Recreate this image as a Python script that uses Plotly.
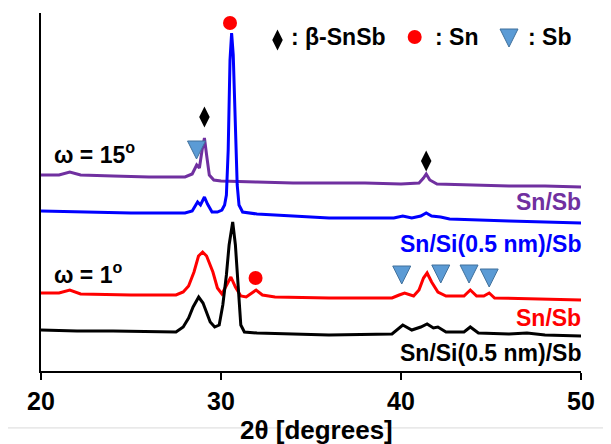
import plotly.graph_objects as go

# ---------------- data (intensity in arbitrary offset units) ----------------
x_w15_snsb = [20.0, 21.0, 21.6, 22.2, 24.0, 26.0, 28.0, 28.4, 28.65, 28.8, 28.95, 29.08, 29.2, 29.35,
              29.6, 30.0, 32.0, 34.0, 36.0, 38.0, 40.0, 41.0, 41.25, 41.4, 41.6, 42.0, 44.0, 46.0, 48.0, 50.0]
y_w15_snsb = [196, 196, 199, 196, 195, 194, 194, 197, 206, 203, 221, 233, 216, 196,
              191, 190, 189, 188, 188, 188, 187, 188, 193, 197, 191, 187, 186, 185, 185, 184]

x_w15_snsisb = [20.0, 22.0, 25.0, 28.0, 28.4, 28.7, 28.86, 29.08, 29.25, 29.5, 29.8, 30.05, 30.2, 30.3,
                30.4, 30.5, 30.59, 30.68, 30.78, 30.9, 31.0, 31.2, 32.0, 34.0, 36.0, 38.0, 39.6, 40.1,
                40.6, 41.1, 41.4, 41.7, 42.2, 42.7, 44.0, 46.0, 48.0, 50.0]
y_w15_snsisb = [160, 159, 158, 158, 160, 169, 166, 174, 167, 159, 159, 161, 166, 176,
                221, 311, 338, 316, 251, 186, 166, 159, 157, 155, 153, 153, 153, 155,
                153, 155, 158, 155, 154, 152, 151, 150, 149, 148]

x_w1_snsb = [20.0, 21.0, 21.6, 22.2, 25.0, 27.5, 27.9, 28.2, 28.5, 28.75, 28.98, 29.2, 29.55, 29.8,
             30.05, 30.35, 30.55, 30.8, 31.1, 31.4, 31.75, 31.95, 32.3, 33.0, 36.0, 39.5, 39.9, 40.2,
             40.7, 41.0, 41.25, 41.45, 41.7, 42.05, 42.5, 43.5, 43.85, 44.2, 44.6, 44.9, 45.2, 47.0, 50.0]
y_w1_snsb = [78, 78, 81, 77, 76, 76, 79, 85, 99, 115, 119, 115, 99, 83,
             77, 87, 94, 84, 75, 74, 79, 81, 76, 74, 73, 73, 76, 78,
             75, 81, 93, 98, 89, 79, 75, 75, 81, 75, 75, 78, 73, 72, 71]

x_w1_snsisb = [20.0, 22.0, 24.0, 26.0, 27.5, 27.9, 28.2, 28.45, 28.76, 29.0, 29.2, 29.4, 29.65, 29.9,
               30.1, 30.3, 30.45, 30.65, 30.8, 30.95, 31.1, 31.3, 32.0, 34.0, 36.0, 39.5, 40.1, 40.6,
               41.1, 41.45, 41.8, 42.05, 42.5, 43.5, 43.85, 44.3, 46.0, 47.0, 48.0, 50.0]
y_w1_snsisb = [41, 40, 40, 39, 39, 44, 53, 64, 74, 68, 59, 49, 44, 46,
               66, 96, 126, 149, 126, 81, 46, 39, 38, 37, 36, 37, 46, 41,
               44, 47, 43, 44, 39, 39, 44, 38, 37, 38, 36, 35]

# phase markers (peak positions)
snsb_x = [29.08, 41.40]
snsb_y = [254, 210]
sn_x = [30.50, 31.92]
sn_y = [348, 93]
sb_x = [28.64, 40.04, 42.21, 43.78, 44.90]
sb_y = [212, 87, 88, 88, 84]

# key (phase legend)
key_x = [33.14, 40.76, 46.00]
key_y = [331, 334, 324]
key_labels = [": β-SnSb", ": Sn", ": Sb"]
key_text_x = [33.75, 41.76, 46.94]

tick_vals = [20, 30, 40, 50]
x_title = "2θ [degrees]"

# ---------------- figure ----------------
FONT = "Liberation Sans"
PURPLE, BLUE, RED, BLACK = "#7030A0", "#0000FF", "#FF0000", "#000000"
SBFILL, SBLINE = "#5B9BD5", "#41719C"

fig = go.Figure()
fig.add_trace(go.Scatter(x=x_w1_snsb, y=y_w1_snsb, mode="lines", line=dict(color=RED, width=3)))
fig.add_trace(go.Scatter(x=x_w1_snsisb, y=y_w1_snsisb, mode="lines", line=dict(color=BLACK, width=3)))
fig.add_trace(go.Scatter(x=x_w15_snsb, y=y_w15_snsb, mode="lines", line=dict(color=PURPLE, width=3)))
fig.add_trace(go.Scatter(x=x_w15_snsisb, y=y_w15_snsisb, mode="lines", line=dict(color=BLUE, width=3)))

fig.add_trace(go.Scatter(x=snsb_x, y=snsb_y, mode="markers",
                         marker=dict(symbol="diamond-tall", size=15, color=BLACK, line=dict(width=0)),
                         cliponaxis=False))
fig.add_trace(go.Scatter(x=sn_x, y=sn_y, mode="markers",
                         marker=dict(symbol="circle", size=14, color=RED, line=dict(width=0)),
                         cliponaxis=False))
fig.add_trace(go.Scatter(x=sb_x, y=sb_y, mode="markers",
                         marker=dict(symbol="arrow-down", size=18, color=SBFILL, line=dict(width=1, color=SBLINE)),
                         cliponaxis=False))

# key markers
fig.add_trace(go.Scatter(x=key_x[:1], y=key_y[:1], mode="markers",
                         marker=dict(symbol="diamond-tall", size=15, color=BLACK, line=dict(width=0)),
                         cliponaxis=False))
fig.add_trace(go.Scatter(x=key_x[1:2], y=key_y[1:2], mode="markers",
                         marker=dict(symbol="circle", size=14, color=RED, line=dict(width=0)),
                         cliponaxis=False))
fig.add_trace(go.Scatter(x=key_x[2:], y=key_y[2:], mode="markers",
                         marker=dict(symbol="arrow-down", size=18, color=SBFILL, line=dict(width=1, color=SBLINE)),
                         cliponaxis=False))

ann_font = dict(family=FONT, size=23, weight="bold")
annotations = []
for tx, lab in zip(key_text_x, key_labels):
    annotations.append(dict(x=tx, y=334, xref="x", yref="y", text=lab, showarrow=False,
                            xanchor="left", yanchor="middle", font=dict(ann_font, color=BLACK)))

labels = [
    ("ω = 15<sup>o</sup>", 20.63, 218, "left", BLACK),
    ("ω = 1<sup>o</sup>", 20.63, 98, "left", BLACK),
    ("Sn/Sb", 50.0, 169, "right", PURPLE),
    ("Sn/Si(0.5 nm)/Sb", 50.0, 127, "right", BLUE),
    ("Sn/Sb", 50.0, 53, "right", RED),
    ("Sn/Si(0.5 nm)/Sb", 50.0, 18, "right", BLACK),
]
for t, xx, yy, anc, col in labels:
    annotations.append(dict(x=xx, y=yy, xref="x", yref="y", text=t, showarrow=False,
                            xanchor=anc, yanchor="middle", xshift=2 if anc == "right" else 0,
                            font=dict(ann_font, color=col)))

annotations.append(dict(x=35.28, y=-0.165, xref="x", yref="paper", text=x_title, showarrow=False,
                        xanchor="center", yanchor="middle",
                        font=dict(family=FONT, size=26, weight="bold", color=BLACK)))

# the page body adds an 8px offset, so the figure is sized to the visible area
fig.update_layout(
    width=603, height=436,
    margin=dict(l=33, r=30, t=5, b=73),
    paper_bgcolor="white", plot_bgcolor="white",
    showlegend=False,
    annotations=annotations,
    shapes=[dict(type="line", xref="paper", yref="paper", x0=-0.063, x1=1.06, y0=-0.159, y1=-0.159,
                 line=dict(color="#D9D9D9", width=1), layer="below")],
    xaxis=dict(range=[20, 50], tickvals=tick_vals, ticktext=[str(v) for v in tick_vals],
               ticks="outside", ticklen=7, tickwidth=2, tickcolor=BLACK,
               showline=True, linewidth=2, linecolor=BLACK, showgrid=False, zeroline=False,
               tickfont=dict(family=FONT, size=25, weight="bold", color=BLACK)),
    yaxis=dict(range=[0, 358], showticklabels=False, ticks="", showline=True, linewidth=2,
               linecolor=BLACK, showgrid=False, zeroline=False),
)

fig.write_html("out.html")
